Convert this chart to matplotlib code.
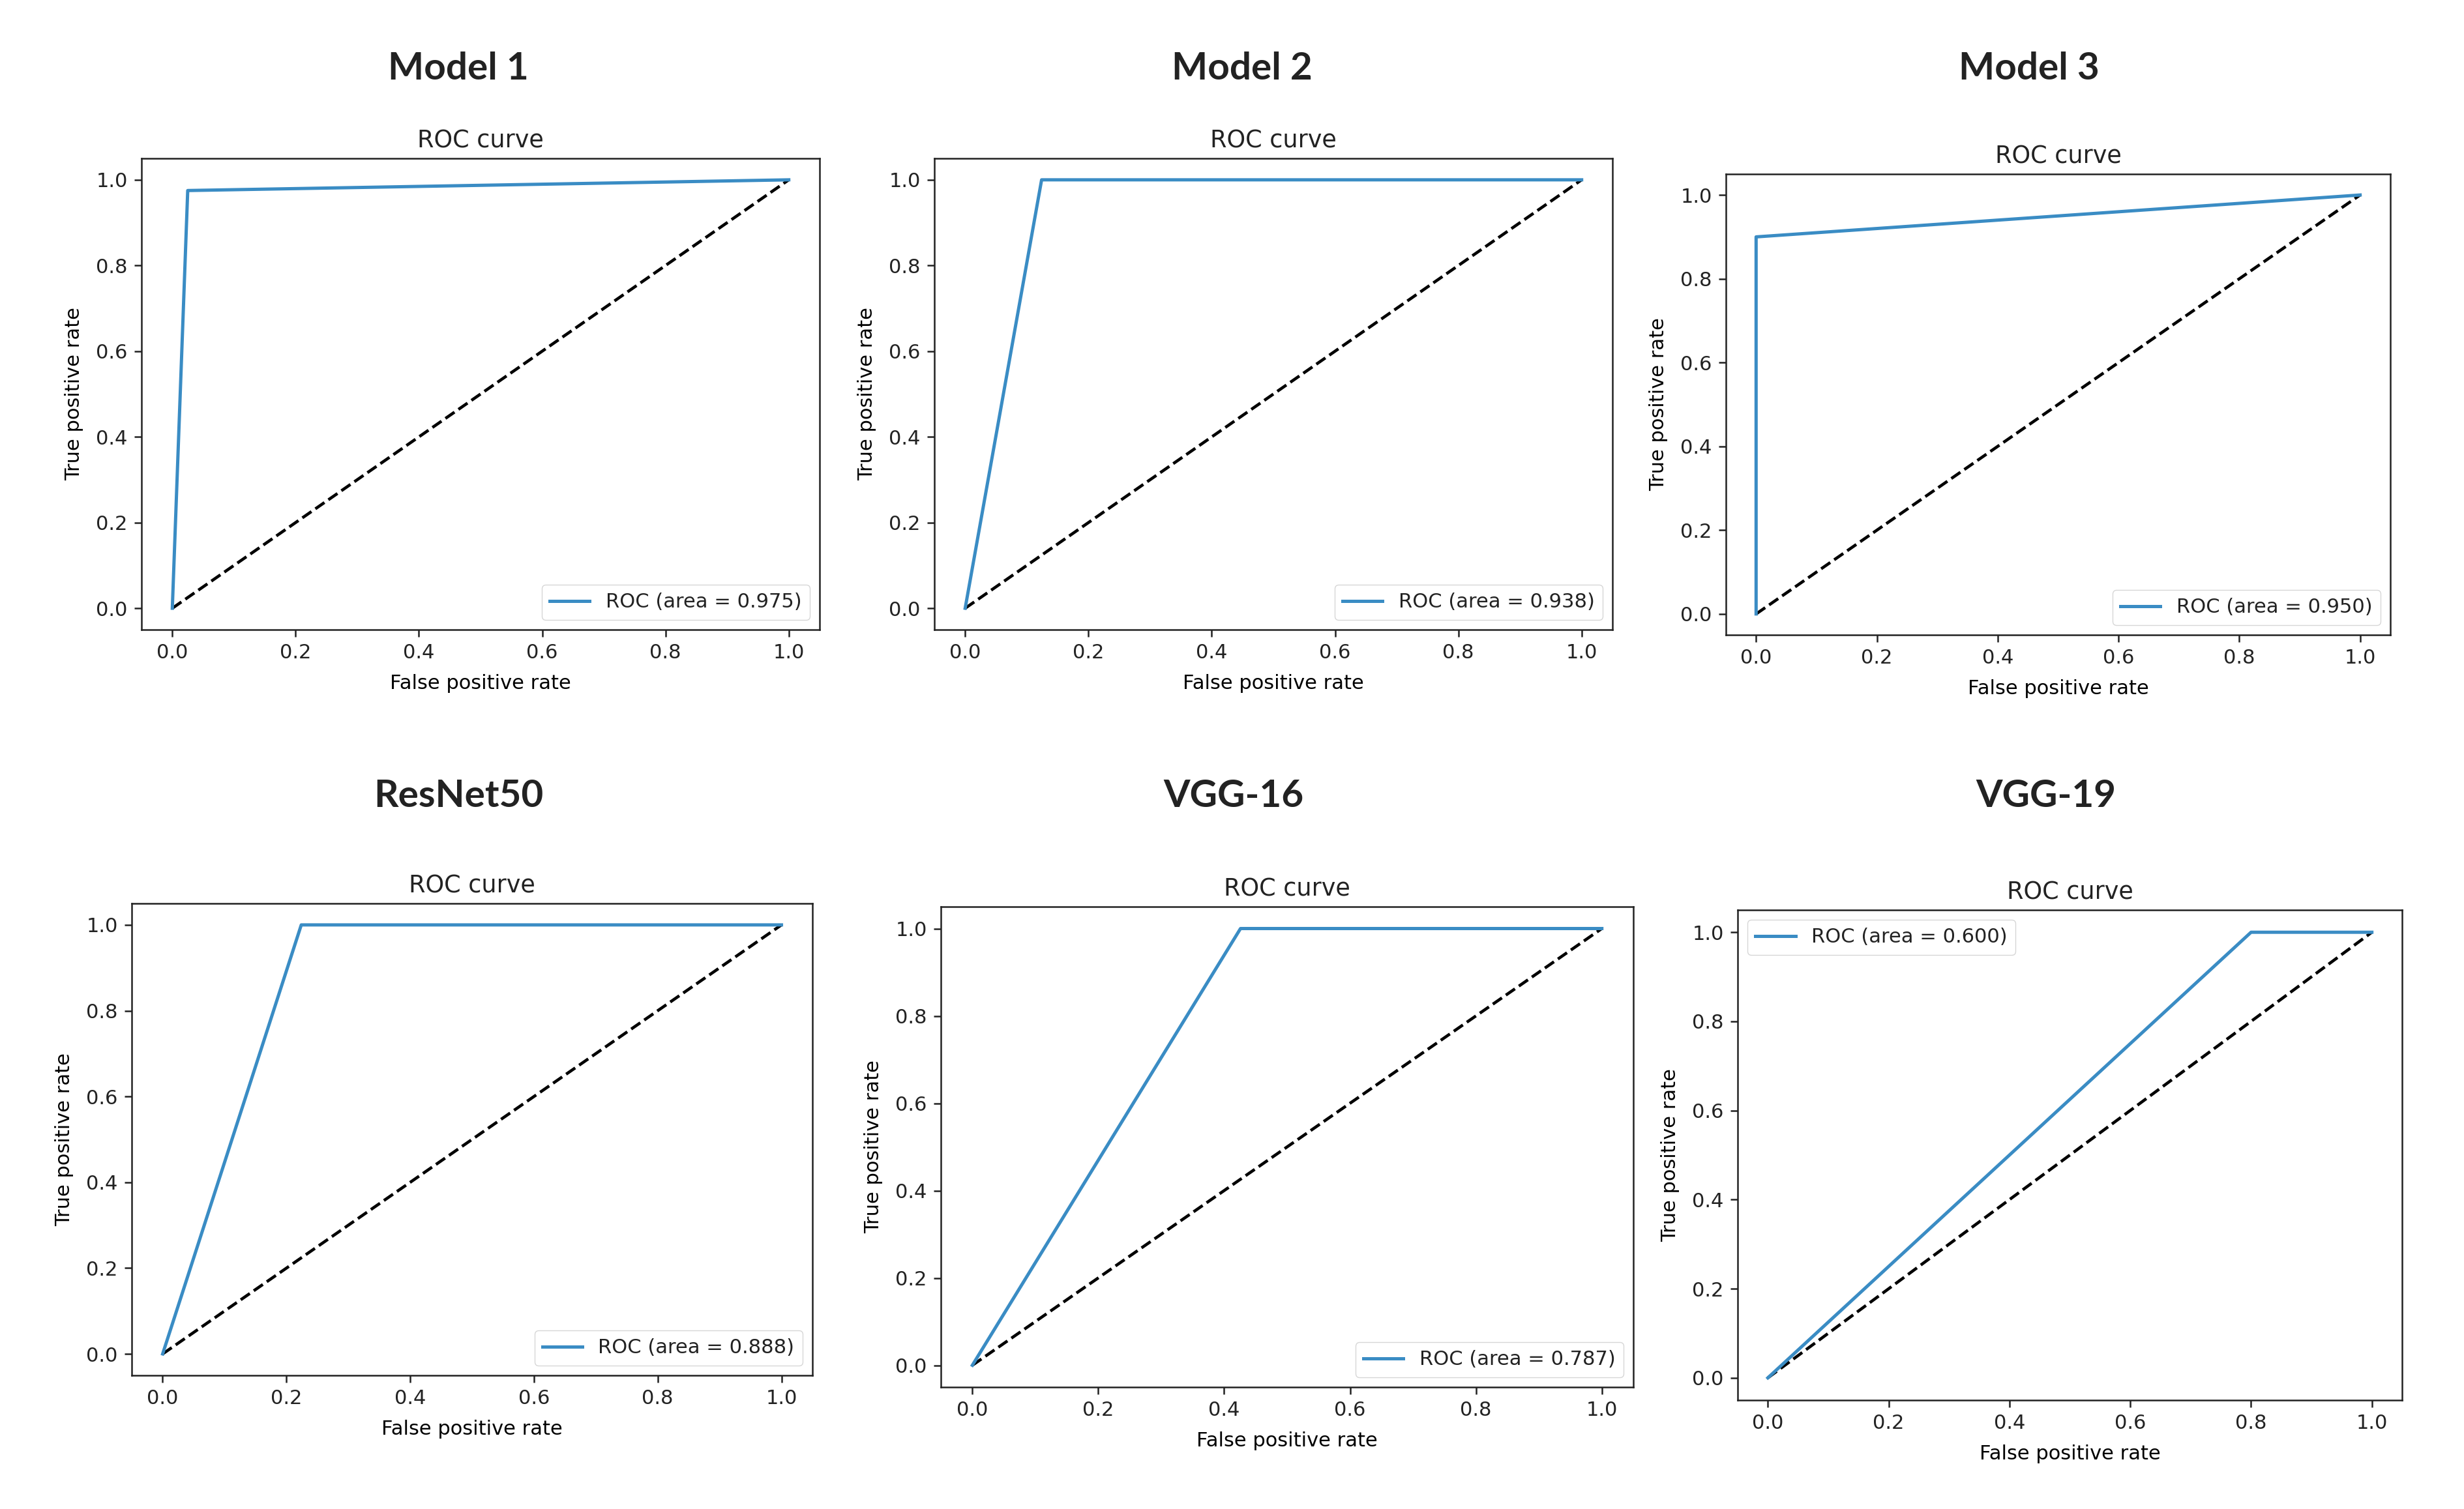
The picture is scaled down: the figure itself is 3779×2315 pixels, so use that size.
import matplotlib
matplotlib.use('Agg')
import matplotlib.pyplot as plt
from matplotlib import font_manager

# ROC points
model1_fpr = [0.0, 0.025, 1.0]
model1_tpr = [0.0, 0.975, 1.0]
model2_fpr = [0.0, 0.124, 1.0]
model2_tpr = [0.0, 1.0, 1.0]
model3_fpr = [0.0, 0.0, 1.0]
model3_tpr = [0.0, 0.9, 1.0]
resnet_fpr = [0.0, 0.224, 1.0]
resnet_tpr = [0.0, 1.0, 1.0]
vgg16_fpr = [0.0, 0.426, 1.0]
vgg16_tpr = [0.0, 1.0, 1.0]
vgg19_fpr = [0.0, 0.8, 1.0]
vgg19_tpr = [0.0, 1.0, 1.0]

names = ['Model 1', 'Model 2', 'Model 3', 'ResNet50', 'VGG-16', 'VGG-19']
areas = [0.975, 0.938, 0.950, 0.888, 0.787, 0.600]
legend_locs = ['lower right', 'lower right', 'lower right',
               'lower right', 'lower right', 'upper left']
curves = [(model1_fpr, model1_tpr), (model2_fpr, model2_tpr),
          (model3_fpr, model3_tpr), (resnet_fpr, resnet_tpr),
          (vgg16_fpr, vgg16_tpr), (vgg19_fpr, vgg19_tpr)]

W, H = 3780, 2315
# axes boxes in pixels: left, right, top, bottom
boxes = [(217, 1257, 243, 966), (1433, 2473, 243, 966), (2647, 3666, 267, 974),
         (202, 1246, 1386, 2110), (1443, 2505, 1391, 2128), (2665, 3684, 1396, 2148)]
heads = [(703, 105), (1905, 105), (3112, 105), (703, 1222), (1892, 1222), (3138, 1222)]

# the screenshot text looks narrow; use a condensed face if one is installed
fams = [f.name for f in font_manager.fontManager.ttflist]
narrow = None
for cand in ['DejaVu Sans Condensed', 'Liberation Sans Narrow']:
    if cand in fams:
        narrow = cand
        break
if narrow is None:
    base = 22
else:
    plt.rcParams['font.family'] = [narrow, 'DejaVu Sans']
    base = 26.5

plt.rcParams['font.size'] = base
plt.rcParams['axes.linewidth'] = 1.8
plt.rcParams['axes.edgecolor'] = '#222222'
plt.rcParams['text.color'] = '#222222'
plt.rcParams['xtick.color'] = '#222222'
plt.rcParams['ytick.color'] = '#222222'
plt.rcParams['xtick.major.width'] = 1.8
plt.rcParams['ytick.major.width'] = 1.8
plt.rcParams['xtick.major.size'] = 7.7
plt.rcParams['ytick.major.size'] = 7.7
plt.rcParams['xtick.major.pad'] = 7.7
plt.rcParams['ytick.major.pad'] = 7.7

fig = plt.figure(figsize=(W / 100, H / 100), dpi=100)

for i in range(6):
    l, r, t, b = boxes[i]
    ax = fig.add_axes([l / W, 1 - b / H, (r - l) / W, (b - t) / H])
    fpr, tpr = curves[i]
    ax.plot([0, 1], [0, 1], 'k--', lw=3.3)
    ax.plot(fpr, tpr, color='#3a8cc4', lw=3.6,
            label='ROC (area = {:.3f})'.format(areas[i]))
    ax.set_xlabel('False positive rate', fontsize=base, labelpad=13)
    ax.set_ylabel('True positive rate', fontsize=base, labelpad=14)
    ax.set_title('ROC curve', fontsize=base * 1.2, pad=12)
    ax.set_xticks([0.0, 0.2, 0.4, 0.6, 0.8, 1.0])
    ax.set_yticks([0.0, 0.2, 0.4, 0.6, 0.8, 1.0])
    ax.tick_params(labelsize=base)
    ax.legend(loc=legend_locs[i], fontsize=base)

    x, y = heads[i]
    fig.text(x / W, 1 - y / H, names[i], ha='center', va='center',
             fontsize=42, fontweight='bold', family=['Lato', 'DejaVu Sans'])

fig.savefig('out.png', dpi=100)
